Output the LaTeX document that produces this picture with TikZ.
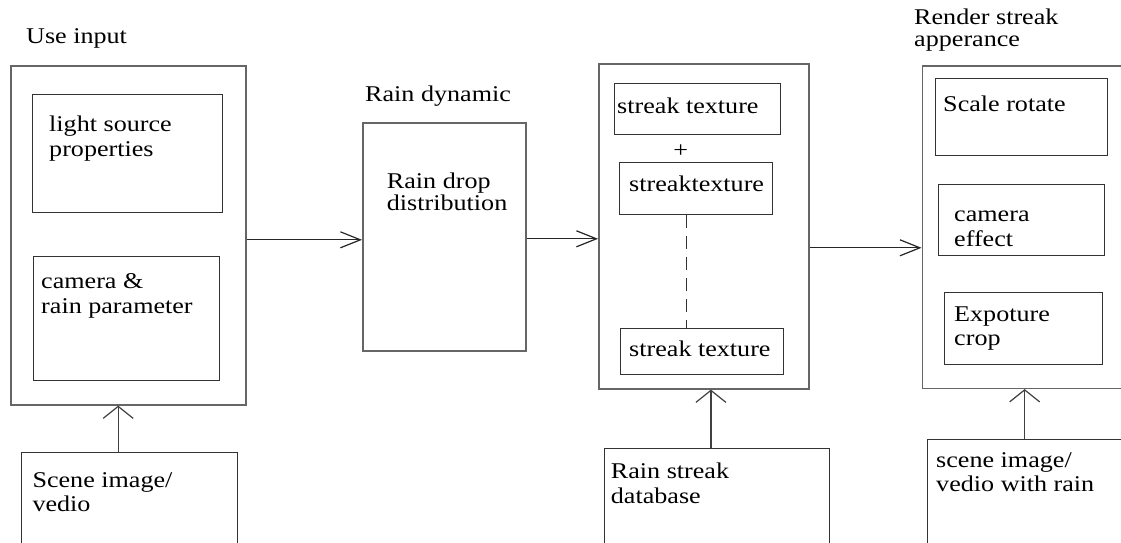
\documentclass[tikz,border=0pt]{standalone}
\usepackage{fontspec}
\setmainfont{Liberation Serif}
\usetikzlibrary{arrows.meta}

\begin{document}
\begin{tikzpicture}[x=1pt,y=1pt,
	outbox/.style={draw=black!60,line width=1.6pt,anchor=north west,inner sep=0pt},
	inbox/.style={draw=black!80,line width=1.3pt,anchor=north west,inner sep=0pt},
	txt/.style={font=\fontsize{22.5}{24.5}\selectfont,align=left,inner sep=0pt,anchor=base west,xscale=1.16,transform shape},
	harr/.style={draw=black!85,line width=1.2pt,-{Straight Barb[length=20pt,width=16pt]}},
	varr/.style={draw=black!75,line width=1.2pt,-{Straight Barb[length=12pt,width=30pt]}}]
	\useasboundingbox (0,0) rectangle (1121,-543);
	\clip (0,0) rectangle (1121,-543);
	% user input (text nodes sit on their last baseline)
	\node[outbox,minimum width=235pt,minimum height=339pt] (input) at (10,-65) {};
	\node[inbox,minimum width=190pt,minimum height=118pt] (light) at (31.5,-94) {};
	\node[inbox,minimum width=186.5pt,minimum height=123.5pt] (campar) at (32.5,-256) {};
	\node[inbox,minimum width=216pt,minimum height=110pt] (scene) at (20.5,-452) {};
	\node[txt] (tinput) at (26,-44) {Use input};
	\node[txt] (tlight) at (49,-156) {light source\\properties};
	\node[txt] (tcampar) at (41,-313.3) {camera \&\\rain parameter};
	\node[txt] (tscene) at (32.3,-511.7) {Scene image/\\vedio};
	% rain dynamic
	\node[outbox,minimum width=163pt,minimum height=228pt] (rain) at (362,-122) {};
	\node[txt] (train) at (365,-101.7) {Rain dynamic};
	\node[txt] (tdrop) at (386.7,-210) {Rain drop\\[-3pt]distribution};
	% streak textures
	\node[outbox,minimum width=210pt,minimum height=325pt] (tex) at (598,-63) {};
	\node[inbox,minimum width=166pt,minimum height=50.5pt] (st1) at (614,-83) {};
	\node[inbox,minimum width=153pt,minimum height=52pt] (st2) at (618.5,-162) {};
	\node[inbox,minimum width=162.5pt,minimum height=46pt] (st3) at (620,-327.5) {};
	\node[inbox,minimum width=224.5pt,minimum height=110pt] (db) at (604,-447.5) {};
	\node[txt] (tst1) at (617,-113.3) {streak texture};
	\node[txt,anchor=center] (plus) at (680.7,-150.7) {+};
	\node[txt] (tst2) at (629,-191.7) {streaktexture};
	\node[txt] (tst3) at (629,-356.7) {streak texture};
	\node[txt] (tdb) at (610.7,-503.3) {Rain streak\\database};
	\draw[black!80,line width=1.2pt,dash pattern=on 13pt off 8pt] ([xshift=-9.3pt]st2.south) -- ([xshift=-9.3pt]st2.south |- st3.north);
	% render streak appearance
	\node[outbox,minimum width=210pt,minimum height=322.5pt] (render) at (921.5,-65) {};
	\node[inbox,minimum width=172pt,minimum height=77pt] (scale) at (935,-78) {};
	\node[inbox,minimum width=166pt,minimum height=71.5pt] (camfx) at (938,-183.5) {};
	\node[inbox,minimum width=158pt,minimum height=72pt] (expo) at (943.5,-292) {};
	\node[inbox,minimum width=210pt,minimum height=110pt] (wrain) at (927,-438.5) {};
	\node[txt] (trender) at (914,-46.7) {Render streak\\[-2pt]apperance};
	\node[txt] (tscale) at (943,-111) {Scale rotate};
	\node[txt] (tcamfx) at (954,-246) {camera\\effect};
	\node[txt] (texpo) at (954,-345.7) {Expoture\\crop};
	\node[txt] (twrain) at (936,-491.7) {scene image/\\vedio with rain};
	% arrows
	\draw[harr] ([yshift=-4.5pt]input.east) -- ([yshift=-4.5pt]input.east -| rain.west);
	\draw[harr] ([yshift=-2pt]rain.east) -- ([yshift=-2pt]rain.east -| tex.west);
	\draw[harr] ([yshift=-21.5pt]tex.east) -- ([yshift=-21.5pt]tex.east -| render.west);
	\draw[varr] ([xshift=-11pt]scene.north) -- ([xshift=-11pt]scene.north |- input.south);
	\draw[varr] ([xshift=-6pt]db.north) -- ([xshift=-6pt]db.north |- tex.south);
	\draw[varr] ([xshift=-8pt]wrain.north) -- ([xshift=-8pt]wrain.north |- render.south);
\end{tikzpicture}
\end{document}
